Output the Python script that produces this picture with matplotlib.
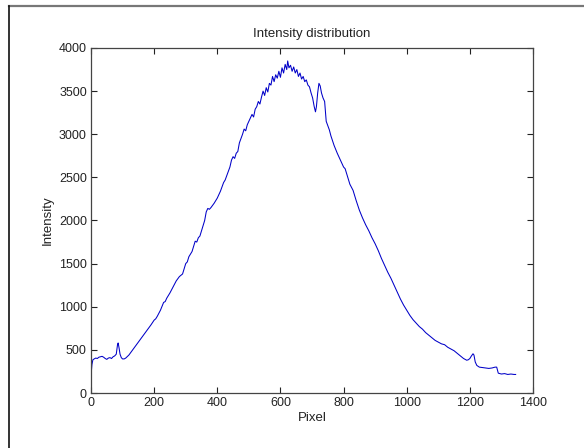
import matplotlib
matplotlib.use("Agg")
import matplotlib.pyplot as plt
from matplotlib.lines import Line2D

# values (pixel index vs. intensity)
pixel = [0, 3, 6, 10, 15, 20, 25, 30, 35, 40, 45, 50, 55, 60, 65, 70, 75, 80,
         84, 86, 89, 92, 96, 100, 105, 110, 120, 130, 140, 150, 160, 170, 180,
         190, 200, 205, 210, 220, 230, 235, 240, 250, 260, 270, 280, 290, 300,
         305, 310, 320, 330, 335, 340, 345, 350, 360, 365, 370, 375, 380, 390,
         400, 410, 420, 425, 430, 440, 445, 450, 455, 460, 465, 470, 475, 480,
         485, 490, 495, 500, 505, 510, 515, 520, 525, 530, 535, 540, 545, 550,
         555, 560, 565, 570, 575, 580, 585, 590, 595, 600, 605, 610, 615, 620,
         623, 627, 632, 637, 642, 647, 652, 657, 662, 667, 672, 677, 682, 687,
         692, 697, 702, 707, 711, 714, 718, 722, 726, 730, 735, 740, 745, 750,
         755, 760, 770, 780, 790, 800, 805, 810, 820, 830, 840, 850, 860, 870,
         880, 890, 900, 910, 920, 930, 940, 950, 960, 970, 980, 990, 1000, 1010,
         1020, 1030, 1040, 1050, 1060, 1070, 1080, 1090, 1100, 1110, 1120, 1130,
         1140, 1150, 1160, 1170, 1180, 1190, 1195, 1200, 1205, 1210, 1213, 1217,
         1222, 1230, 1240, 1250, 1260, 1270, 1280, 1285, 1290, 1300, 1310, 1320,
         1330, 1340, 1345]
intensity = [200, 330, 385, 395, 405, 400, 415, 420, 425, 415, 400, 390, 405,
             410, 400, 420, 430, 450, 560, 580, 520, 450, 410, 395, 395, 405,
             440, 490, 540, 590, 640, 690, 740, 790, 845, 860, 890, 960, 1050,
             1060, 1100, 1160, 1230, 1300, 1350, 1380, 1500, 1520, 1580, 1640,
             1760, 1750, 1800, 1820, 1880, 2000, 2100, 2140, 2130, 2150, 2200,
             2260, 2340, 2440, 2470, 2520, 2620, 2700, 2740, 2720, 2780, 2800,
             2900, 2950, 3000, 3060, 3040, 3110, 3150, 3190, 3230, 3200, 3290,
             3320, 3380, 3350, 3430, 3500, 3450, 3540, 3490, 3590, 3570, 3670,
             3610, 3690, 3650, 3730, 3660, 3770, 3710, 3810, 3750, 3850, 3770,
             3800, 3730, 3780, 3710, 3750, 3670, 3710, 3640, 3670, 3610, 3630,
             3570, 3550, 3480, 3420, 3320, 3260, 3320, 3480, 3590, 3560, 3480,
             3420, 3380, 3150, 3100, 3050, 2980, 2870, 2780, 2700, 2620, 2600,
             2540, 2420, 2350, 2230, 2120, 2030, 1950, 1880, 1800, 1730, 1650,
             1560, 1480, 1400, 1330, 1250, 1170, 1090, 1020, 960, 900, 850, 810,
             770, 740, 700, 670, 640, 610, 590, 570, 560, 530, 510, 490, 460,
             430, 400, 380, 385, 400, 430, 455, 440, 360, 320, 300, 295, 290,
             285, 290, 300, 300, 230, 220, 225, 215, 220, 215, 215]

xticks = [0, 200, 400, 600, 800, 1000, 1200, 1400]
yticks = [0, 500, 1000, 1500, 2000, 2500, 3000, 3500, 4000]

plt.rcParams['font.family'] = ['Liberation Sans', 'DejaVu Sans']

fig = plt.figure(figsize=(5.84, 4.48), dpi=100)
ax = fig.add_axes([91/584, 1 - 393/448, (533 - 91)/584, (393 - 48)/448])

ax.plot(pixel, intensity, color='#0000c8', lw=0.75)

ax.set_xlim(0, 1400)
ax.set_ylim(0, 4000)
ax.set_xticks(xticks)
ax.set_yticks(yticks)
ax.tick_params(direction='in', top=True, right=True, length=4, width=0.8,
               labelsize=9, colors='#222222', pad=3)
for s in ax.spines.values():
    s.set_color('#444444')
    s.set_linewidth(0.9)

ax.set_title('Intensity distribution', fontsize=9.5, pad=8, color='#222222')
ax.set_xlabel('Pixel', fontsize=9.5, labelpad=2, color='#222222')
ax.set_ylabel('Intensity', fontsize=9.5, labelpad=4, color='#222222')

# window frame from the screenshot
fig.add_artist(Line2D([9/584, 1], [1 - 6/448, 1 - 6/448], color='#777777', lw=1.6))
fig.add_artist(Line2D([9/584, 9/584], [0, 1 - 6/448], color='#111111', lw=1.2))

fig.savefig('out.png', dpi=100)
